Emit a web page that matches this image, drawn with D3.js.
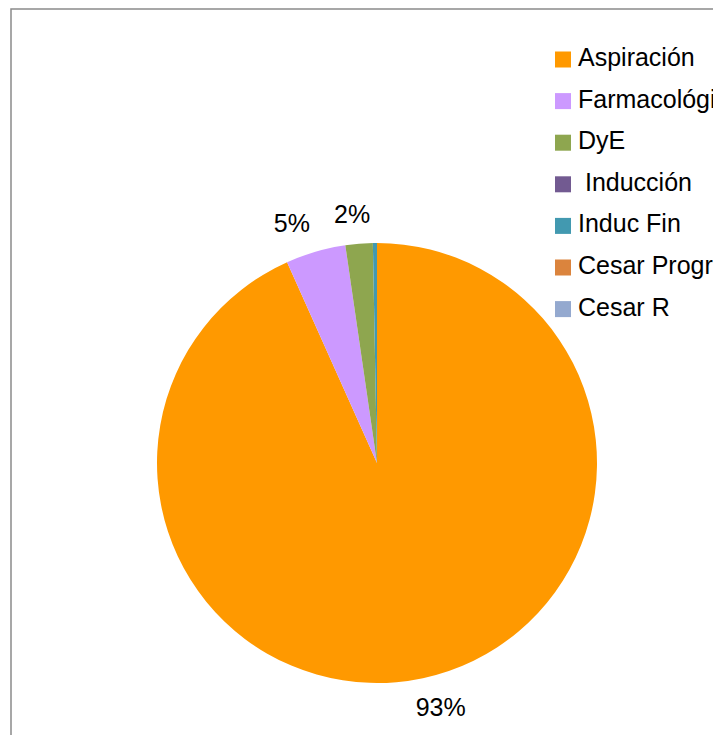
<!DOCTYPE html>
<html>
<head>
<meta charset="utf-8">
<script src="https://cdn.jsdelivr.net/npm/d3@7"></script>
<style>
  body { margin: 0; background: #fff; }
  text { font-family: "Liberation Sans", Arial, sans-serif; }
</style>
</head>
<body>
<script>
//chart data (percent of total)
var categories = ["Aspiración", "Farmacológico", "DyE", " Inducción", "Induc Fin", "Cesar Programada", "Cesar R"];
var values = [93.3, 4.4, 2.0, 0.0, 0.3, 0.0, 0.0];
var labels = ["93%", "5%", "2%", "", "", "", ""];
var colors = ["#ff9900", "#cc99ff", "#8ea64f", "#725a91", "#4299b0", "#db843d", "#94a9cf"];

window.onload = function(){
    var width = 713,
        height = 735;

    var svg = d3.select("body")
        .append("svg")
        .attr("width", width)
        .attr("height", height);

    //chart frame, runs off the right and bottom
    svg.append("rect")
        .attr("x", 11)
        .attr("y", 9)
        .attr("width", 900)
        .attr("height", 900)
        .attr("fill", "none")
        .attr("stroke", "#8a8a8a")
        .attr("stroke-width", 1.5);

    var cx = 377, cy = 463, radius = 220;

    var pie = d3.pie()
        .sort(null)
        .value(function(d){ return d; });

    var arc = d3.arc()
        .innerRadius(0)
        .outerRadius(radius);

    var arcs = pie(values);

    var g = svg.append("g")
        .attr("transform", "translate(" + cx + "," + cy + ")");

    g.selectAll(".slice")
        .data(arcs)
        .enter()
        .append("path")
        .attr("class", "slice")
        .attr("d", arc)
        .attr("fill", function(d, i){ return colors[i]; });

    //percentage labels outside the pie
    var labelR = 250;
    g.selectAll(".pct")
        .data(arcs)
        .enter()
        .append("text")
        .attr("class", "pct")
        .attr("x", function(d){
            var a = (d.startAngle + d.endAngle) / 2;
            return Math.sin(a) * labelR + Math.sin(a) * 55;
        })
        .attr("y", function(d){
            var a = (d.startAngle + d.endAngle) / 2;
            return -Math.cos(a) * labelR;
        })
        .attr("text-anchor", "middle")
        .attr("dominant-baseline", "central")
        .attr("font-size", "25px")
        .attr("fill", "#000")
        .text(function(d, i){ return labels[i]; });

    //legend
    var y = d3.scaleBand()
        .domain(categories)
        .range([51.5, 51.5 + 41.6 * categories.length]);

    var legend = svg.selectAll(".legend")
        .data(categories)
        .enter()
        .append("g")
        .attr("class", "legend")
        .attr("transform", function(d){ return "translate(555," + y(d) + ")"; });

    legend.append("rect")
        .attr("width", 16)
        .attr("height", 16)
        .attr("fill", function(d, i){ return colors[i]; });

    legend.append("text")
        .attr("x", 23)
        .attr("y", 5.5)
        .attr("dominant-baseline", "central")
        .attr("font-size", "25px")
        .attr("fill", "#000")
        .style("white-space", "pre")
        .text(function(d){ return d; });
};
</script>
</body>
</html>
